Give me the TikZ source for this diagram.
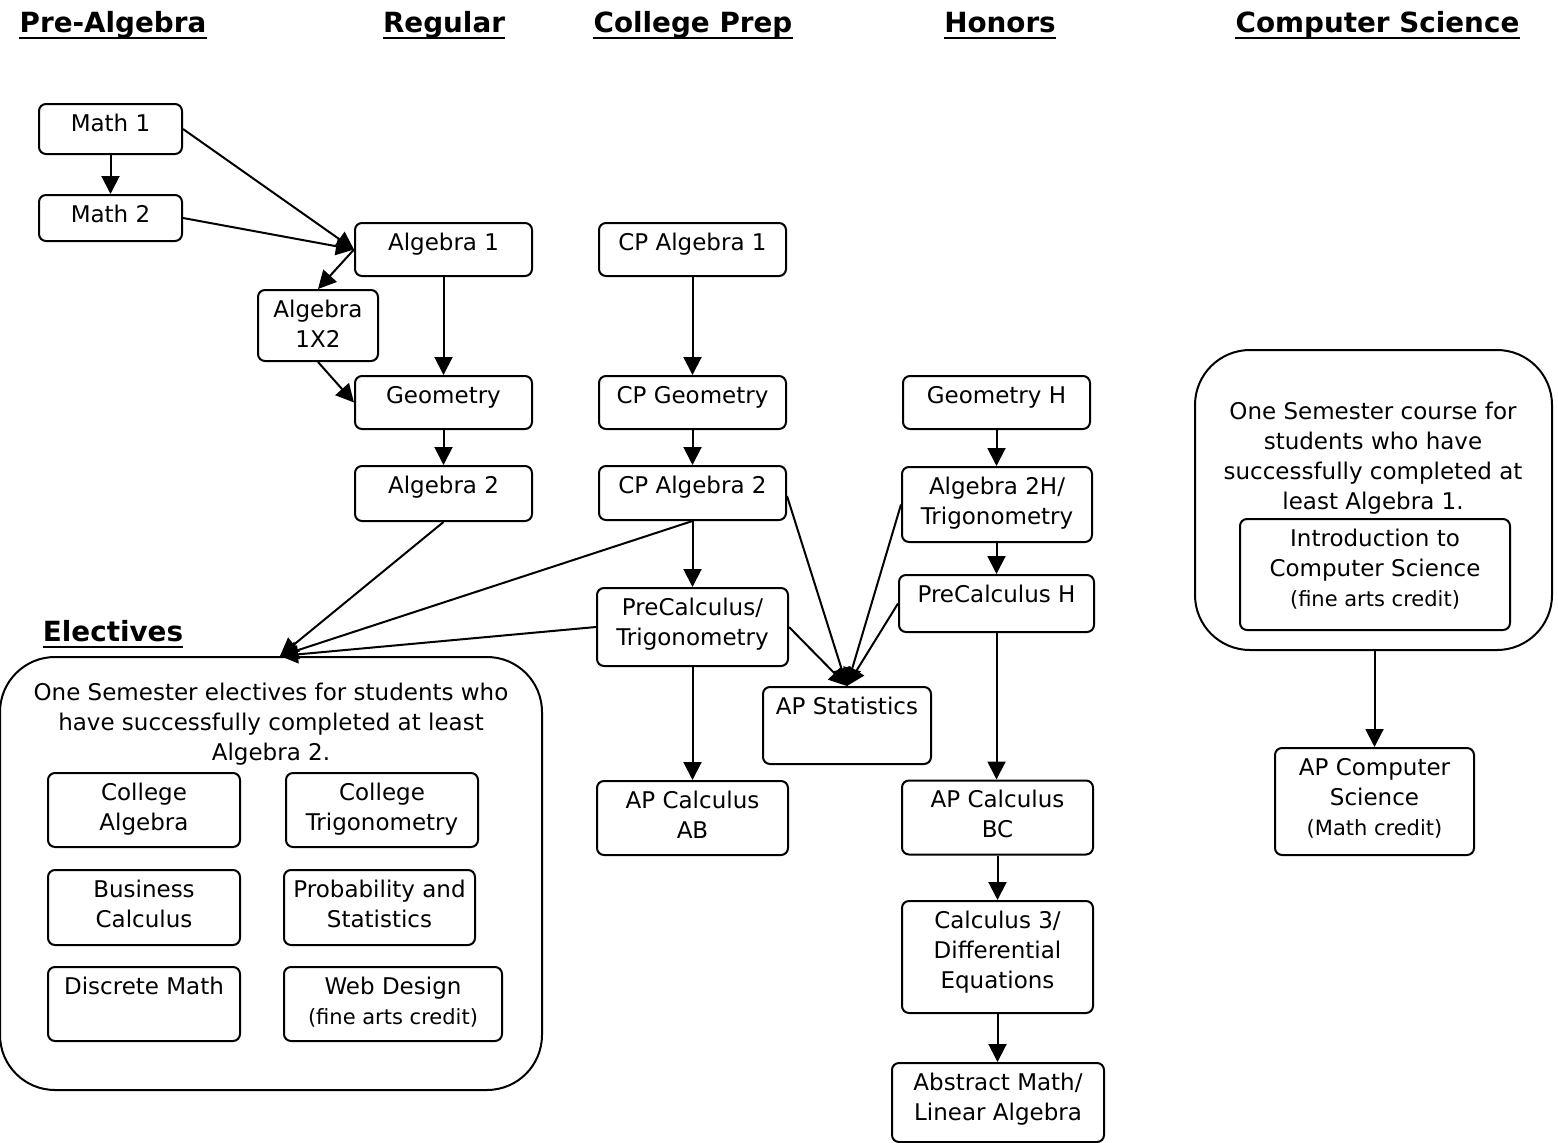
\documentclass[tikz,border=0pt]{standalone}
\usepackage{fontspec}
\setmainfont{DejaVu Sans}
\usetikzlibrary{arrows.meta}
\newcommand{\mainsz}{\fontsize{23}{30}\selectfont}
\newcommand{\smallsz}{\fontsize{21}{30}\selectfont}
\newcommand{\hdrsz}{\fontsize{27.8}{32}\selectfont\bfseries}
\begin{document}
\begin{tikzpicture}[x=1pt,y=-1pt,
  box/.style={draw, line width=2pt, rounded corners=7pt, inner sep=0pt},
  group/.style={draw, line width=2pt, rounded corners=55pt, inner sep=0pt},
  lbl/.style={anchor=north, inner sep=0pt, yshift=-7pt, align=center, font=\mainsz, label distance=0pt},
  txt/.style={anchor=north, inner sep=0pt, align=center, font=\mainsz},
  hdr/.style={anchor=base, inner sep=0pt, font=\hdrsz, text depth=6pt,
    append after command={(\tikzlastnode.south west) edge[line width=2.2pt] (\tikzlastnode.south east)}},
  arr/.style={line width=2pt, -{Triangle[length=18pt,width=18pt]}}
]
\useasboundingbox (0,0) rectangle (1558,1143);

% headers
\node[hdr] (hpa) at (113,32) {Pre-Algebra};
\node[hdr] (hreg) at (444,32) {Regular};
\node[hdr] (hcp) at (693,32) {College Prep};
\node[hdr] (hhon) at (1000,32) {Honors};
\node[hdr] (hcs) at (1377.5,32) {Computer Science};
\node[hdr] (hel) at (113,641) {Electives};

% pre-algebra / regular
\node[box, minimum width=143, minimum height=50, label={[lbl]north:{\strut Math 1}}] (m1) at (110.5,129) {};
\node[box, minimum width=143, minimum height=46, label={[lbl]north:{\strut Math 2}}] (m2) at (110.5,218) {};
\node[box, minimum width=177, minimum height=53, label={[lbl]north:{\strut Algebra 1}}] (alg1) at (443.5,249.5) {};
\node[box, minimum width=120, minimum height=71, label={[lbl]north:{\strut Algebra\\1X2}}] (a1x2) at (318,325.5) {};
\node[box, minimum width=177, minimum height=53, label={[lbl]north:{\strut Geometry}}] (geo) at (443.5,402.5) {};
\node[box, minimum width=177, minimum height=55, label={[lbl]north:{\strut Algebra 2}}] (alg2) at (443.5,493.5) {};

% college prep
\node[box, minimum width=187, minimum height=53, label={[lbl]north:{\strut CP Algebra 1}}] (cpa1) at (692.5,249.5) {};
\node[box, minimum width=187, minimum height=53, label={[lbl]north:{\strut CP Geometry}}] (cpgeo) at (692.5,402.5) {};
\node[box, minimum width=187, minimum height=54, label={[lbl]north:{\strut CP Algebra 2}}] (cpa2) at (692.5,493) {};
\node[box, minimum width=191, minimum height=78, label={[lbl]north:{\strut PreCalculus/\\Trigonometry}}] (pct) at (692.5,627) {};
\node[box, minimum width=168, minimum height=77, label={[lbl]north:{\strut AP Statistics}}] (apstat) at (847,725.5) {};
\node[box, minimum width=191, minimum height=74, label={[lbl]north:{\strut AP Calculus\\AB}}] (apab) at (692.5,818) {};

% honors
\node[box, minimum width=187, minimum height=53, label={[lbl]north:{\strut Geometry H}}] (geoh) at (996.5,402.5) {};
\node[box, minimum width=190, minimum height=75, label={[lbl]north:{\strut Algebra 2H/\\Trigonometry}}] (a2h) at (997,504.5) {};
\node[box, minimum width=195, minimum height=57, label={[lbl]north:{\strut PreCalculus H}}] (pch) at (996.5,603.5) {};
\node[box, minimum width=191, minimum height=74, label={[lbl]north:{\strut AP Calculus\\BC}}] (apbc) at (997.5,817.5) {};
\node[box, minimum width=191, minimum height=112, label={[lbl]north:{\strut Calculus 3/\\Differential\\Equations}}] (calc3) at (997.5,957) {};
\node[box, minimum width=212, minimum height=79, label={[lbl]north:{\strut Abstract Math/\\Linear Algebra}}] (abst) at (998,1102.5) {};

% electives
\node[group, minimum width=542, minimum height=433] (elect) at (271,873.5) {};
\node[txt] (etxt) at (271,679) {\strut One Semester electives for students who\\have successfully completed at least\\Algebra 2.};
\node[box, minimum width=192, minimum height=74, label={[lbl]north:{\strut College\\Algebra}}] (ca) at (144,810) {};
\node[box, minimum width=192, minimum height=74, label={[lbl]north:{\strut College\\Trigonometry}}] (ct) at (382,810) {};
\node[box, minimum width=192, minimum height=75, label={[lbl]north:{\strut Business\\Calculus}}] (bc) at (144,907.5) {};
\node[box, minimum width=191, minimum height=75, label={[lbl]north:{\strut Probability and\\Statistics}}] (ps) at (379.5,907.5) {};
\node[box, minimum width=192, minimum height=74, label={[lbl]north:{\strut Discrete Math}}] (dm) at (144,1004) {};
\node[box, minimum width=218, minimum height=74, label={[lbl]north:{\strut Web Design\\{\smallsz(fine arts credit)}}}] (wd) at (393,1004) {};

% computer science
\node[group, minimum width=357, minimum height=300] (csg) at (1373.5,500) {};
\node[txt] (cstxt) at (1373,398) {\strut One Semester course for\\students who have\\successfully completed at\\least Algebra 1.};
\node[box, minimum width=270, minimum height=111, label={[lbl]north:{\strut Introduction to\\Computer Science\\{\smallsz(fine arts credit)}}}] (intro) at (1375,574.5) {};
\node[box, minimum width=199, minimum height=107, label={[lbl]north:{\strut AP Computer\\Science\\{\smallsz(Math credit)}}}] (apcs) at (1374.5,801.5) {};

% connectors
\draw[arr] (m1) -- (m2);
\draw[arr] (m1.east) -- (alg1.west);
\draw[arr] (m2.east) -- (alg1.west);
\draw[arr] (alg1.west) -- (a1x2.north);
\draw[arr] (alg1) -- (geo);
\draw[arr] (a1x2.south) -- (geo.west);
\draw[arr] (geo) -- (alg2);
\draw[arr] (alg2.south) -- ([xshift=9pt]elect.north);
\draw[arr] (cpa2.south) -- ([xshift=9pt]elect.north);
\draw[arr] (pct.west) -- ([xshift=9pt]elect.north);

\draw[arr] (cpa1) -- (cpgeo);
\draw[arr] (cpgeo) -- (cpa2);
\draw[arr] (cpa2) -- (pct);
\draw[arr] (pct) -- (apab);
\draw[arr] ([yshift=-3pt]cpa2.east) -- (apstat.north);
\draw[arr] (pct.east) -- (apstat.north);
\draw[arr] (a2h.west) -- (apstat.north);
\draw[arr] (pch.west) -- (apstat.north);

\draw[arr] (geoh.south) -- (geoh.south |- a2h.north);
\draw[arr] (geoh.south |- a2h.south) -- (geoh.south |- pch.north);
\draw[arr] (geoh.south |- pch.south) -- (geoh.south |- apbc.north);
\draw[arr] (apbc) -- (calc3);
\draw[arr] (calc3.south) -- (calc3.south |- abst.north);

\draw[arr] (csg.south -| apcs.north) -- (apcs.north);
\end{tikzpicture}
\end{document}
